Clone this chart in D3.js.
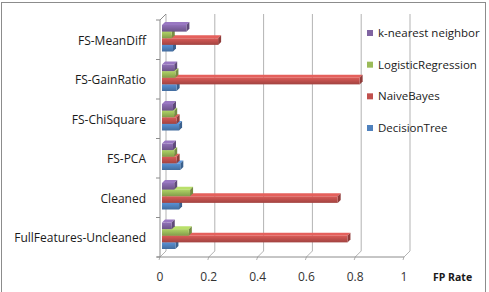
<!DOCTYPE html>
<html>
<head>
<meta charset="utf-8">
<script src="https://cdn.jsdelivr.net/npm/d3@7"></script>
<style>
  body { margin: 0; background: #fff; }
  svg text { font-family: "Open Sans", "Liberation Sans", sans-serif; }
</style>
</head>
<body>
<svg id="chart" width="489" height="292"></svg>
<script>
// FP rate per classifier, categories listed bottom to top as in the sheet
var categories = ["FullFeatures-Uncleaned", "Cleaned", "FS-PCA", "FS-ChiSquare", "FS-GainRatio", "FS-MeanDiff"];
var series = ["DecisionTree", "NaiveBayes", "LogisticRegression", "k-nearest neighbor"];
var decisionTree = [0.055, 0.07, 0.075, 0.07, 0.06, 0.045];
var naiveBayes = [0.76, 0.72, 0.06, 0.06, 0.81, 0.23];
var logisticRegression = [0.11, 0.115, 0.05, 0.05, 0.055, 0.04];
var knn = [0.04, 0.05, 0.045, 0.045, 0.05, 0.10];
var xTicks = [0, 0.2, 0.4, 0.6, 0.8, 1];

var values = [decisionTree, naiveBayes, logisticRegression, knn];
var colors = ["#4F81BD", "#C0504D", "#9BBB59", "#8064A2"];
var legendOrder = ["k-nearest neighbor", "LogisticRegression", "NaiveBayes", "DecisionTree"];

var svg = d3.select("#chart");

// outer frame
svg.append("rect")
  .attr("x", 1.5).attr("y", 2.5)
  .attr("width", 484).attr("height", 300)
  .attr("fill", "none").attr("stroke", "#8c8c8c");

var x = d3.scaleLinear().domain([0, 1]).range([160, 404]);
var y = d3.scaleBand().domain(categories).range([257, 20]);
var inner = d3.scaleBand().domain(series.slice().reverse()).range([6, 32.5]);

// 3d offsets: back wall and the bars' own depth
var depth = { dx: 6, dy: -6 };
var barFront = { dx: 2, dy: -1 };
var barDepth = { dx: 3, dy: -3 };

var grid = svg.append("g").attr("fill", "none").attr("stroke", "#b3b3b3");

// back wall gridlines with the floor diagonal down to the front tick
xTicks.forEach(function (t) {
  var fx = x(t), fy = 257;
  grid.append("path")
    .attr("d", "M" + (fx + depth.dx) + "," + (20 + depth.dy) +
               "L" + (fx + depth.dx) + "," + (fy + depth.dy) +
               "L" + fx + "," + fy + "L" + (fx - 1) + "," + (fy + 3));
});

// floor front edge
grid.append("line")
  .attr("x1", x(0) - 3).attr("x2", x(1))
  .attr("y1", 257).attr("y2", 257)
  .attr("stroke", "#8c8c8c");

// left wall front edge with category ticks
var axis = svg.append("g").attr("stroke", "#8c8c8c").attr("fill", "none");
axis.append("path")
  .attr("d", "M" + x(0) + ",257L" + x(0) + ",20L" + (x(0) + depth.dx) + "," + (20 + depth.dy));
categories.concat(["top"]).forEach(function (c, i) {
  var yy = i < categories.length ? y(c) + y.bandwidth() : 20;
  axis.append("line")
    .attr("x1", x(0) - 4).attr("x2", x(0))
    .attr("y1", yy).attr("y2", yy);
});

// bars: drawn bottom series first so the one above covers its top face
var defs = svg.append("defs");
colors.forEach(function (c, i) {
  var g = defs.append("linearGradient")
    .attr("id", "grad" + i).attr("x1", 0).attr("x2", 0).attr("y1", 0).attr("y2", 1);
  g.append("stop").attr("offset", "0%").attr("stop-color", d3.color(c).brighter(0.35));
  g.append("stop").attr("offset", "45%").attr("stop-color", c);
  g.append("stop").attr("offset", "100%").attr("stop-color", d3.color(c).darker(0.5));
});

var bars = svg.append("g");
categories.forEach(function (cat, ci) {
  series.forEach(function (s, si) {
    var v = values[si][ci];
    var x0 = x(0) + barFront.dx;
    var x1 = x(v) + barFront.dx;
    var y0 = y(cat) + inner(s) + barFront.dy;
    var h = inner.bandwidth();
    var base = d3.color(colors[si]);
    var g = bars.append("g");
    // top face
    g.append("path")
      .attr("d", "M" + x0 + "," + y0 + "L" + (x0 + barDepth.dx) + "," + (y0 + barDepth.dy) +
                 "L" + (x1 + barDepth.dx) + "," + (y0 + barDepth.dy) + "L" + x1 + "," + y0 + "Z")
      .attr("fill", base.brighter(0.5));
    // end face
    g.append("path")
      .attr("d", "M" + x1 + "," + y0 + "L" + (x1 + barDepth.dx) + "," + (y0 + barDepth.dy) +
                 "L" + (x1 + barDepth.dx) + "," + (y0 + h + barDepth.dy) + "L" + x1 + "," + (y0 + h) + "Z")
      .attr("fill", base.darker(0.8));
    // front face
    g.append("rect")
      .attr("x", x0).attr("y", y0)
      .attr("width", x1 - x0).attr("height", h)
      .attr("fill", "url(#grad" + si + ")");
  });
});

// category labels
svg.append("g").selectAll("text")
  .data(categories).join("text")
  .attr("x", 146)
  .attr("y", function (d) { return y(d) + y.bandwidth() / 2 + 2; })
  .attr("text-anchor", "end")
  .attr("dominant-baseline", "middle")
  .attr("font-size", "12px")
  .attr("fill", "#1a1a1a")
  .text(function (d) { return d; });

// value axis labels
svg.append("g").selectAll("text")
  .data(xTicks).join("text")
  .attr("x", function (d) { return x(d); })
  .attr("y", 278)
  .attr("text-anchor", "middle")
  .attr("dominant-baseline", "middle")
  .attr("font-size", "12px")
  .attr("fill", "#333")
  .text(function (d) { return d; });

svg.append("text")
  .attr("x", 433).attr("y", 278)
  .attr("dominant-baseline", "middle")
  .attr("font-size", "10.5px")
  .attr("font-weight", "bold")
  .attr("fill", "#1a1a1a")
  .text("FP Rate");

// legend
var legendY = d3.scalePoint().domain(legendOrder).range([33, 128]);
var legend = svg.append("g").selectAll("g")
  .data(legendOrder).join("g")
  .attr("transform", function (d) { return "translate(367," + legendY(d) + ")"; });
legend.append("rect")
  .attr("x", 0).attr("y", -3)
  .attr("width", 6).attr("height", 6)
  .attr("fill", function (d) { return colors[series.indexOf(d)]; });
legend.append("text")
  .attr("x", 11).attr("y", 1)
  .attr("dominant-baseline", "middle")
  .attr("font-size", "11.5px")
  .attr("fill", "#1a1a1a")
  .text(function (d) { return d; });
</script>
</body>
</html>
